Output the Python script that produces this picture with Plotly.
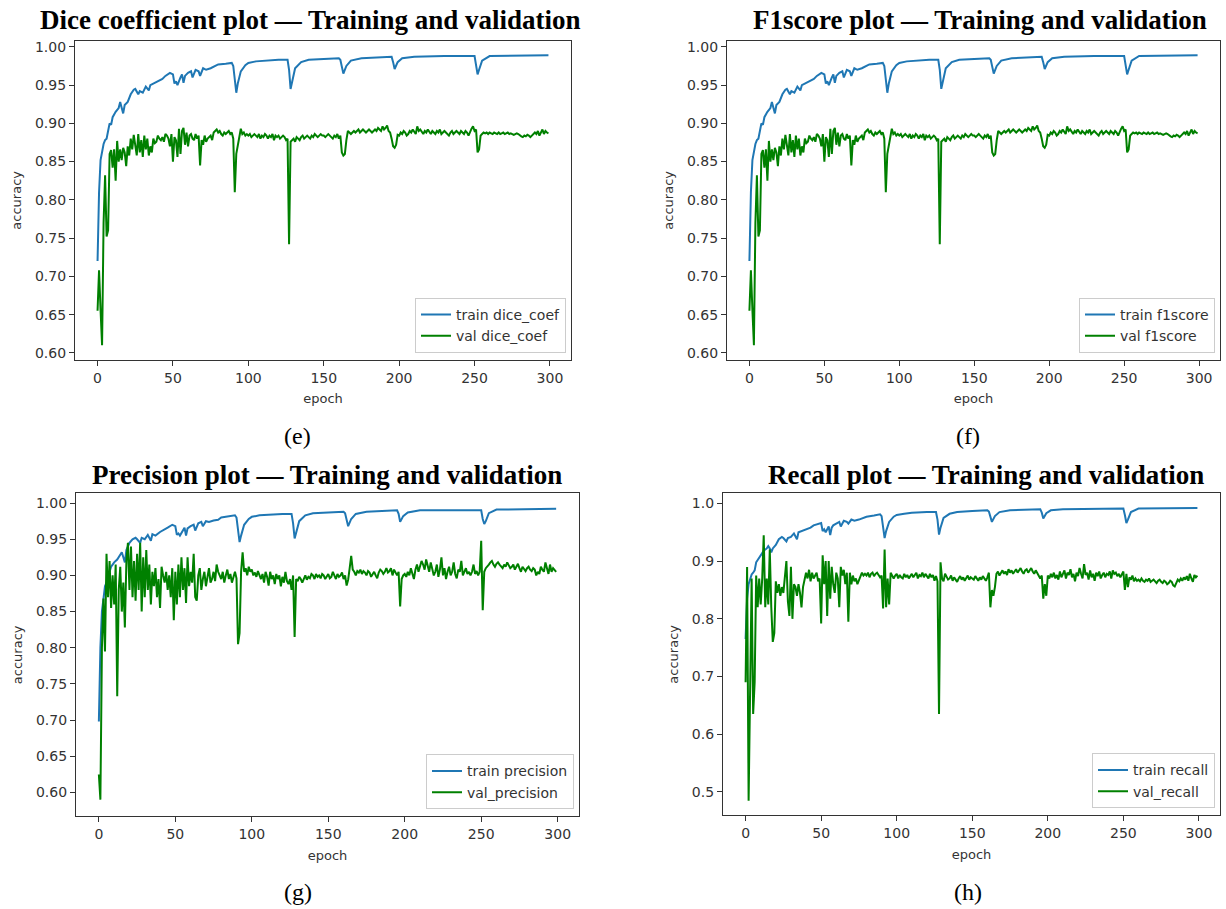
import plotly.graph_objects as go

# ---------------- data ----------------
epochs = list(range(300))

# epochs at which the (smooth) training curves were read
train_epochs = [0, 1, 2, 3, 4, 5, 6, 7, 8, 9,
                10, 12, 14, 15, 16, 17, 18,
                20, 22, 24, 25, 27, 28,
                30, 32, 34, 35, 37,
                40, 43, 45, 48,
                50, 51, 52, 53, 55, 56, 57, 58,
                60, 62, 63, 65, 67, 68,
                70, 72, 75, 78,
                80, 85, 89, 90, 91, 92, 93, 95, 98,
                100, 105, 110, 120, 126, 127, 128, 129,
                131, 135, 140, 150,
                160, 161, 162, 163, 165, 168,
                175, 185, 195, 196, 197, 199,
                202, 210, 230, 250, 251, 252, 253, 255,
                260, 280, 299]

dice_train = [0.720, 0.810, 0.852, 0.866, 0.873, 0.878, 0.880, 0.890, 0.900, 0.898,
              0.908, 0.915, 0.920, 0.928, 0.920, 0.913, 0.924,
              0.928, 0.938, 0.944, 0.945, 0.938, 0.942,
              0.940, 0.948, 0.943, 0.950, 0.952,
              0.955, 0.958, 0.962, 0.966,
              0.964, 0.952, 0.955, 0.950, 0.960, 0.964, 0.953, 0.962,
              0.966, 0.968, 0.960, 0.970, 0.968, 0.962,
              0.972, 0.970, 0.972, 0.975,
              0.977, 0.978, 0.979, 0.975, 0.955, 0.940, 0.952, 0.968, 0.976,
              0.979, 0.981, 0.982, 0.983, 0.983, 0.970, 0.945, 0.955,
              0.972, 0.980, 0.983, 0.984,
              0.985, 0.983, 0.972, 0.965, 0.975, 0.982,
              0.985, 0.986, 0.987, 0.980, 0.971, 0.980,
              0.985, 0.987, 0.988, 0.988, 0.978, 0.964, 0.970, 0.982,
              0.988, 0.989, 0.989]

dice_val = [0.655, 0.708, 0.656, 0.610, 0.770, 0.832, 0.752, 0.760, 0.860, 0.865,
            0.842, 0.866, 0.825, 0.877, 0.850, 0.866, 0.852, 0.868, 0.862, 0.844,
            0.870, 0.858, 0.880, 0.866, 0.885, 0.872, 0.858, 0.886, 0.862, 0.878,
            0.856, 0.884, 0.866, 0.880, 0.858, 0.870, 0.862, 0.880, 0.874, 0.876,
            0.884, 0.880, 0.878, 0.882, 0.876, 0.886, 0.884, 0.880, 0.870, 0.886,
            0.850, 0.882, 0.878, 0.856, 0.893, 0.860, 0.890, 0.894, 0.872, 0.888,
            0.870, 0.884, 0.886, 0.880, 0.878, 0.886, 0.880, 0.884, 0.845, 0.878,
            0.872, 0.884, 0.876, 0.880, 0.882, 0.884, 0.878, 0.888, 0.890, 0.892,
            0.888, 0.890, 0.886, 0.884, 0.888, 0.886, 0.888, 0.890, 0.886, 0.888,
            0.880, 0.810, 0.860, 0.872, 0.884, 0.893, 0.886, 0.888, 0.884, 0.886,
            0.884, 0.886, 0.882, 0.884, 0.886, 0.884, 0.882, 0.886, 0.880, 0.884,
            0.882, 0.886, 0.884, 0.880, 0.884, 0.882, 0.886, 0.878, 0.884, 0.882,
            0.884, 0.880, 0.882, 0.884, 0.882, 0.878, 0.880, 0.742, 0.876, 0.878,
            0.880, 0.876, 0.882, 0.880, 0.878, 0.882, 0.884, 0.880, 0.882, 0.884,
            0.882, 0.880, 0.884, 0.882, 0.886, 0.884, 0.882, 0.884, 0.886, 0.884,
            0.884, 0.882, 0.884, 0.886, 0.884, 0.882, 0.880, 0.884, 0.882, 0.886,
            0.880, 0.884, 0.862, 0.858, 0.860, 0.878, 0.890, 0.888, 0.886, 0.888,
            0.890, 0.888, 0.890, 0.892, 0.888, 0.890, 0.892, 0.890, 0.888, 0.890,
            0.892, 0.890, 0.888, 0.890, 0.892, 0.890, 0.894, 0.892, 0.890, 0.896,
            0.892, 0.894, 0.897, 0.890, 0.888, 0.880, 0.870, 0.868, 0.872, 0.885,
            0.884, 0.888, 0.886, 0.890, 0.888, 0.884, 0.886, 0.890, 0.888, 0.892,
            0.888, 0.886, 0.896, 0.890, 0.892, 0.888, 0.886, 0.890, 0.888, 0.892,
            0.888, 0.886, 0.890, 0.888, 0.886, 0.890, 0.888, 0.892, 0.886, 0.888,
            0.890, 0.888, 0.886, 0.884, 0.888, 0.890, 0.886, 0.888, 0.890, 0.888,
            0.886, 0.890, 0.888, 0.886, 0.890, 0.888, 0.884, 0.890, 0.893, 0.896,
            0.890, 0.892, 0.862, 0.866, 0.884, 0.886, 0.888, 0.887, 0.888, 0.886,
            0.888, 0.887, 0.886, 0.888, 0.887, 0.886, 0.888, 0.886, 0.887, 0.888,
            0.886, 0.887, 0.888, 0.886, 0.887, 0.886, 0.885, 0.886, 0.887, 0.886,
            0.884, 0.883, 0.882, 0.884, 0.883, 0.885, 0.884, 0.882, 0.884, 0.886,
            0.888, 0.886, 0.890, 0.884, 0.888, 0.892, 0.886, 0.890, 0.888, 0.887]

# panel (f) shows the same curves as panel (e)
f1_train = list(dice_train)
f1_val = list(dice_val)

precision_train = [0.698, 0.800, 0.850, 0.872, 0.885, 0.890, 0.895, 0.905, 0.912, 0.915,
                   0.918, 0.922, 0.928, 0.932, 0.925, 0.918, 0.935,
                   0.945, 0.950, 0.952, 0.950, 0.945, 0.952,
                   0.950, 0.956, 0.948, 0.957, 0.955,
                   0.960, 0.963, 0.966, 0.970,
                   0.968, 0.956, 0.958, 0.955, 0.962, 0.966, 0.955, 0.965,
                   0.968, 0.970, 0.962, 0.972, 0.974, 0.968,
                   0.975, 0.974, 0.976, 0.977,
                   0.980, 0.982, 0.983, 0.980, 0.960, 0.946, 0.955, 0.970, 0.978,
                   0.981, 0.983, 0.984, 0.985, 0.985, 0.972, 0.951, 0.960,
                   0.975, 0.983, 0.986, 0.987,
                   0.988, 0.986, 0.975, 0.968, 0.978, 0.985,
                   0.988, 0.989, 0.990, 0.985, 0.974, 0.982,
                   0.987, 0.990, 0.990, 0.990, 0.978, 0.971, 0.975, 0.986,
                   0.991, 0.992, 0.992]

precision_val = [0.625, 0.590, 0.800, 0.868, 0.795, 0.930, 0.870, 0.920, 0.855, 0.900,
                 0.860, 0.915, 0.733, 0.880, 0.912, 0.850, 0.890, 0.828, 0.920, 0.945,
                 0.880, 0.940, 0.870, 0.920, 0.865, 0.930, 0.880, 0.945, 0.850, 0.925,
                 0.870, 0.935, 0.880, 0.915, 0.860, 0.905, 0.885, 0.910, 0.870, 0.895,
                 0.855, 0.912, 0.900, 0.890, 0.905, 0.880, 0.900, 0.870, 0.910, 0.838,
                 0.905, 0.860, 0.915, 0.870, 0.925, 0.880, 0.910, 0.862, 0.925, 0.885,
                 0.905, 0.890, 0.930, 0.870, 0.865, 0.900, 0.910, 0.880, 0.895, 0.905,
                 0.885, 0.900, 0.910, 0.890, 0.895, 0.905, 0.892, 0.915, 0.905, 0.900,
                 0.895, 0.905, 0.890, 0.900, 0.908, 0.895, 0.902, 0.890, 0.898, 0.905,
                 0.896, 0.805, 0.820, 0.905, 0.932, 0.905, 0.910, 0.900, 0.912, 0.905,
                 0.908, 0.900, 0.904, 0.898, 0.906, 0.900, 0.895, 0.902, 0.890, 0.905,
                 0.898, 0.886, 0.905, 0.895, 0.900, 0.888, 0.902, 0.895, 0.900, 0.885,
                 0.898, 0.890, 0.905, 0.892, 0.888, 0.895, 0.880, 0.900, 0.815, 0.895,
                 0.892, 0.898, 0.895, 0.890, 0.896, 0.900, 0.894, 0.898, 0.896, 0.902,
                 0.900, 0.895, 0.902, 0.898, 0.900, 0.896, 0.902, 0.900, 0.895, 0.898,
                 0.902, 0.896, 0.898, 0.905, 0.900, 0.895, 0.902, 0.898, 0.900, 0.904,
                 0.895, 0.900, 0.886, 0.894, 0.910, 0.927, 0.908, 0.905, 0.900, 0.906,
                 0.904, 0.908, 0.902, 0.906, 0.904, 0.900, 0.906, 0.904, 0.898, 0.902,
                 0.905, 0.900, 0.896, 0.904, 0.908, 0.906, 0.902, 0.905, 0.910, 0.904,
                 0.906, 0.910, 0.900, 0.908, 0.904, 0.900, 0.905, 0.857, 0.895, 0.900,
                 0.902, 0.898, 0.905, 0.900, 0.910, 0.904, 0.895, 0.908, 0.915, 0.905,
                 0.912, 0.920, 0.915, 0.908, 0.922, 0.915, 0.905, 0.918, 0.910, 0.900,
                 0.905, 0.915, 0.898, 0.908, 0.925, 0.900, 0.910, 0.895, 0.905, 0.912,
                 0.900, 0.905, 0.918, 0.902, 0.896, 0.908, 0.905, 0.920, 0.900, 0.905,
                 0.910, 0.902, 0.905, 0.900, 0.905, 0.915, 0.902, 0.906, 0.900, 0.905,
                 0.948, 0.852, 0.905, 0.910, 0.912, 0.915, 0.918, 0.920, 0.915, 0.912,
                 0.916, 0.918, 0.915, 0.912, 0.910, 0.915, 0.912, 0.918, 0.914, 0.910,
                 0.912, 0.915, 0.908, 0.912, 0.916, 0.910, 0.905, 0.912, 0.908, 0.906,
                 0.910, 0.912, 0.908, 0.906, 0.910, 0.908, 0.900, 0.905, 0.902, 0.912,
                 0.908, 0.905, 0.918, 0.908, 0.902, 0.915, 0.905, 0.910, 0.908, 0.905]

recall_train = [0.765, 0.835, 0.860, 0.870, 0.877, 0.880, 0.884, 0.898, 0.902, 0.905,
                0.910, 0.918, 0.922, 0.926, 0.922, 0.915, 0.922,
                0.928, 0.938, 0.942, 0.940, 0.934, 0.940,
                0.942, 0.948, 0.938, 0.950, 0.952,
                0.955, 0.958, 0.962, 0.965,
                0.966, 0.952, 0.955, 0.950, 0.960, 0.945, 0.958, 0.962,
                0.965, 0.968, 0.960, 0.970, 0.968, 0.965,
                0.972, 0.970, 0.972, 0.975,
                0.977, 0.979, 0.981, 0.978, 0.958, 0.940, 0.952, 0.968, 0.977,
                0.980, 0.982, 0.984, 0.985, 0.985, 0.972, 0.946, 0.958,
                0.975, 0.982, 0.985, 0.987,
                0.988, 0.986, 0.975, 0.968, 0.978, 0.985,
                0.988, 0.989, 0.990, 0.984, 0.974, 0.983,
                0.988, 0.990, 0.991, 0.991, 0.980, 0.966, 0.972, 0.985,
                0.991, 0.992, 0.992]

recall_val = [0.690, 0.890, 0.485, 0.720, 0.870, 0.635, 0.690, 0.875, 0.820, 0.870,
              0.825, 0.870, 0.945, 0.820, 0.870, 0.825, 0.920, 0.820, 0.760, 0.775,
              0.865, 0.845, 0.860, 0.840, 0.855, 0.845, 0.875, 0.900, 0.830, 0.805,
              0.890, 0.800, 0.860, 0.855, 0.840, 0.860, 0.845, 0.820, 0.855, 0.870,
              0.880, 0.870, 0.885, 0.865, 0.880, 0.870, 0.875, 0.880, 0.865, 0.870,
              0.792, 0.910, 0.860, 0.900, 0.805, 0.900, 0.835, 0.890, 0.860, 0.845,
              0.880, 0.870, 0.820, 0.890, 0.875, 0.885, 0.860, 0.880, 0.795, 0.880,
              0.860, 0.875, 0.865, 0.870, 0.860, 0.868, 0.872, 0.880, 0.875, 0.878,
              0.875, 0.880, 0.872, 0.878, 0.880, 0.874, 0.878, 0.880, 0.876, 0.872,
              0.875, 0.818, 0.920, 0.820, 0.870, 0.825, 0.880, 0.876, 0.870, 0.875,
              0.878, 0.870, 0.876, 0.872, 0.870, 0.878, 0.872, 0.876, 0.870, 0.874,
              0.878, 0.872, 0.876, 0.880, 0.870, 0.876, 0.874, 0.880, 0.872, 0.878,
              0.874, 0.870, 0.878, 0.872, 0.876, 0.866, 0.874, 0.865, 0.635, 0.898,
              0.870, 0.865, 0.878, 0.872, 0.868, 0.870, 0.875, 0.866, 0.872, 0.868,
              0.864, 0.870, 0.874, 0.868, 0.872, 0.866, 0.870, 0.875, 0.868, 0.872,
              0.870, 0.868, 0.874, 0.870, 0.866, 0.872, 0.868, 0.874, 0.870, 0.866,
              0.872, 0.880, 0.820, 0.850, 0.840, 0.855, 0.878, 0.882, 0.875, 0.880,
              0.884, 0.878, 0.882, 0.876, 0.886, 0.880, 0.884, 0.878, 0.882, 0.886,
              0.880, 0.884, 0.888, 0.882, 0.878, 0.884, 0.886, 0.880, 0.884, 0.888,
              0.882, 0.878, 0.884, 0.880, 0.875, 0.870, 0.875, 0.835, 0.860, 0.840,
              0.875, 0.870, 0.878, 0.872, 0.880, 0.870, 0.876, 0.868, 0.882, 0.872,
              0.878, 0.884, 0.870, 0.880, 0.876, 0.886, 0.872, 0.878, 0.865, 0.880,
              0.874, 0.888, 0.878, 0.870, 0.895, 0.876, 0.880, 0.868, 0.884, 0.872,
              0.878, 0.866, 0.880, 0.874, 0.882, 0.870, 0.876, 0.880, 0.872, 0.878,
              0.876, 0.882, 0.870, 0.884, 0.878, 0.880, 0.874, 0.878, 0.872, 0.876,
              0.882, 0.850, 0.878, 0.855, 0.872, 0.868, 0.875, 0.865, 0.870, 0.866,
              0.868, 0.865, 0.870, 0.866, 0.864, 0.868, 0.866, 0.870, 0.864, 0.866,
              0.868, 0.865, 0.862, 0.866, 0.868, 0.864, 0.862, 0.866, 0.864, 0.860,
              0.862, 0.866, 0.864, 0.858, 0.856, 0.862, 0.868, 0.865, 0.870, 0.866,
              0.872, 0.868, 0.874, 0.866, 0.878, 0.870, 0.864, 0.876, 0.872, 0.875]

x_ticks = [0, 50, 100, 150, 200, 250, 300]
y_ticks_a = [0.60, 0.65, 0.70, 0.75, 0.80, 0.85, 0.90, 0.95, 1.00]
y_ticks_b = [0.5, 0.6, 0.7, 0.8, 0.9, 1.0]

titles = ["Dice coefficient plot \u2014 Training and validation",
          "F1score plot \u2014 Training and validation",
          "Precision plot \u2014 Training and validation",
          "Recall plot \u2014 Training and validation"]
captions = ["(e)", "(f)", "(g)", "(h)"]
train_names = ["train dice_coef", "train f1score", "train precision", "train recall"]
val_names = ["val dice_coef", "val f1score", "val_precision", "val_recall"]

# ---------------- layout / style ----------------
W, H = 1226, 909
BLUE = "#1f77b4"
GREEN = "#008000"
TICKFONT = dict(family="DejaVu Sans", size=14, color="#333333")
LABELFONT = dict(family="DejaVu Sans", size=13, color="#333333")

# pixel boxes (left, right, top, bottom) of each plotting area
boxes = [(75, 571, 39, 359), (727, 1220, 39, 359),
         (76, 579, 493, 817), (723, 1220, 493, 816)]
y_ranges = [(0.5909, 1.0078), (0.5909, 1.0078), (0.5670, 1.0134), (0.4596, 1.0174)]
y_ticks = [y_ticks_a, y_ticks_a, y_ticks_a, y_ticks_b]
y_fmt = [".2f", ".2f", ".2f", ".1f"]
title_pos = [(310, 18), (980, 18), (327, 475), (986, 475)]
cap_pos = [(297, 435), (968, 435), (298, 893), (968, 893)]

series = [(dice_train, dice_val), (f1_train, f1_val),
          (precision_train, precision_val), (recall_train, recall_val)]

fig = go.Figure()
annotations = []
layout = {}
for i in range(4):
    n = "" if i == 0 else str(i + 1)
    tr, va = series[i]
    leg = "legend" if i == 0 else "legend" + str(i + 1)
    fig.add_trace(go.Scatter(x=train_epochs, y=tr, mode="lines", name=train_names[i],
                             line=dict(color=BLUE, width=2), xaxis="x" + n, yaxis="y" + n,
                             legend=leg))
    fig.add_trace(go.Scatter(x=epochs, y=va, mode="lines", name=val_names[i],
                             line=dict(color=GREEN, width=2), xaxis="x" + n, yaxis="y" + n,
                             legend=leg))
    l, r, t, b = boxes[i]
    layout["xaxis" + n] = dict(domain=[l / W, r / W], anchor="y" + n, range=[-14.95, 313.95],
                               tickvals=x_ticks, ticks="outside", ticklen=5, tickwidth=1,
                               tickcolor="#333333", showline=True, mirror=True,
                               linecolor="#333333", linewidth=1.2, showgrid=False,
                               zeroline=False, tickfont=TICKFONT,
                               title=dict(text="epoch", font=LABELFONT, standoff=9))
    layout["yaxis" + n] = dict(domain=[1 - b / H, 1 - t / H], anchor="x" + n,
                               range=list(y_ranges[i]), tickvals=y_ticks[i],
                               tickformat=y_fmt[i], ticks="outside", ticklen=5, tickwidth=1,
                               tickcolor="#333333", showline=True, mirror=True,
                               linecolor="#333333", linewidth=1.2, showgrid=False,
                               zeroline=False, tickfont=TICKFONT,
                               title=dict(text="accuracy", font=LABELFONT, standoff=10))
    layout[leg] = dict(x=(r - 5) / W, y=1 - (b - 7) / H, xanchor="right", yanchor="bottom",
                       bgcolor="rgba(255,255,255,0.85)", bordercolor="#cccccc", borderwidth=1,
                       font=dict(family="DejaVu Sans", size=14, color="#333333"),
                       tracegroupgap=2)
    tx, ty = title_pos[i]
    annotations.append(dict(text="<b>" + titles[i] + "</b>", x=tx / W, y=1 - ty / H,
                            xref="paper", yref="paper", xanchor="center", yanchor="middle",
                            showarrow=False,
                            font=dict(family="Liberation Serif", size=27, color="black")))
    cx, cy = cap_pos[i]
    annotations.append(dict(text=captions[i], x=cx / W, y=1 - cy / H, xref="paper",
                            yref="paper", xanchor="center", yanchor="middle", showarrow=False,
                            font=dict(family="Liberation Serif", size=24, color="black")))

fig.update_layout(width=W, height=H, margin=dict(l=0, r=0, t=0, b=0),
                  paper_bgcolor="white", plot_bgcolor="white",
                  annotations=annotations, **layout)
# remove the browser's default 8px page margin so the figure fills the window exactly
fig.write_html("out.html", config={"displayModeBar": False},
               post_script="document.body.style.margin='0px';")
